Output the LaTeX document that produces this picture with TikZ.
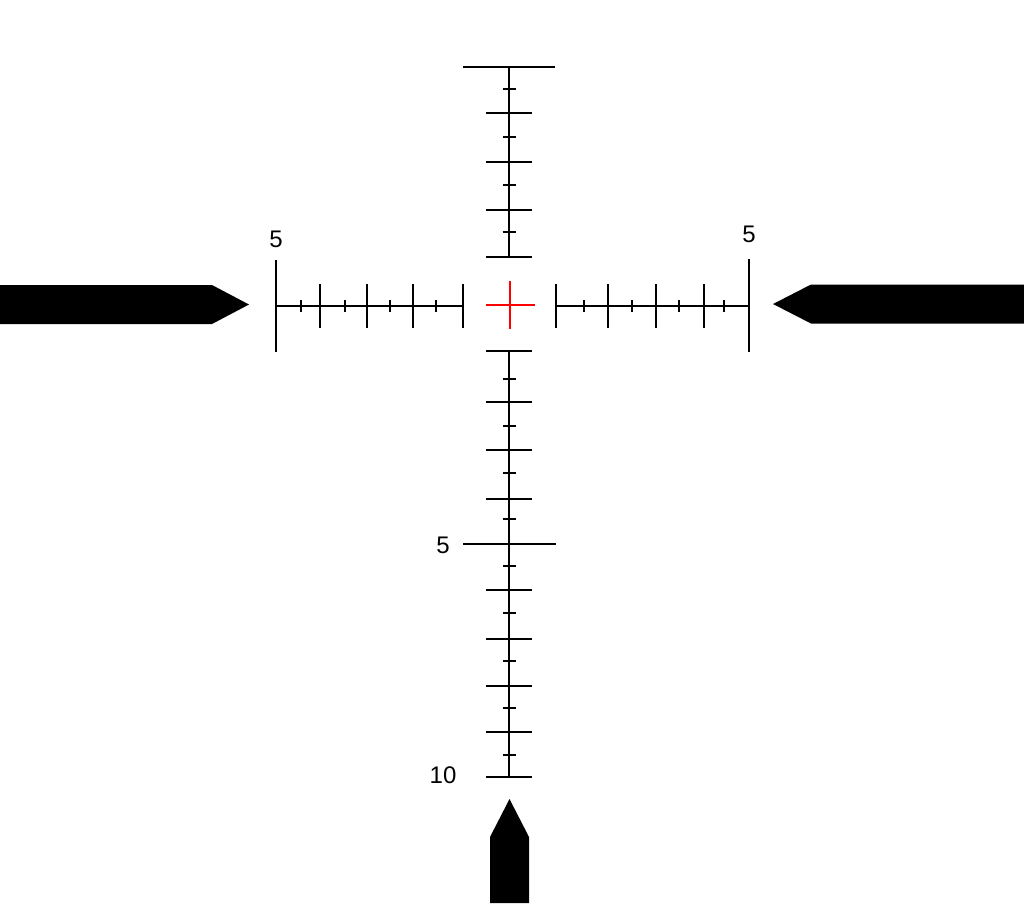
\documentclass[tikz,border=0pt]{standalone}
\usepackage{fontspec}
\setmainfont{Liberation Sans}

\begin{document}
\begin{tikzpicture}[x=1pt, y=-1pt, line width=1.7pt,
  numlabel/.style={font=\fontsize{24}{26}\selectfont, inner sep=0pt}]

          \useasboundingbox (0,0) rectangle (1024,903);

          % horizontal scales
          \begin{scope}[yshift=-306pt]
            \draw (276,0) -- (463,0);
            \draw (556,0) -- (749,0);
            \draw (276,-46) -- (276,46);
            \draw (749,-47) -- (749,46);
            \foreach \x in {320,367,413,463,556,608,656,704}{
              \draw (\x,-22) -- (\x,22);
            }
            \foreach \x in {301,345,390,436,584,632,679,724}{
              \draw (\x,-6) -- (\x,6);
            }
          \end{scope}

          % vertical scales
          \begin{scope}[xshift=509pt]
            \draw (0,67) -- (0,257);
            \draw (0,351) -- (0,777);
            \draw (-46,67) -- (46,67);
            \draw (-46,544) -- (47,544);
            \foreach \y in {113,162,210,257,351,402,450,499,590,639,686,732,777}{
              \draw (-23,\y) -- (23,\y);
            }
            \foreach \y in {89,137,185,232,379,426,473,519,566,613,661,708,755}{
              \draw (-6.5,\y) -- (6.5,\y);
            }
          \end{scope}

          % centre cross
          \draw[red, line width=1.2pt] (486,305) -- (535,305) (510,281) -- (510,329);

          % posts
          \fill (0,285) -- (212,285) -- (249,304.5) -- (212,324) -- (0,324) -- cycle;
          \fill (1024,284.5) -- (811,284.5) -- (773,304) -- (811,323.5) -- (1024,323.5) -- cycle;
          \fill (490,903) -- (490,837) -- (509.5,799) -- (529,837) -- (529,903) -- cycle;

          \node[numlabel] (lblLeft) at (276,239) {5};
          \node[numlabel] (lblRight) at (749,234) {5};
          \node[numlabel] (lblFive) at (443,545) {5};
          \node[numlabel] (lblTen) at (443,775) {10};
\end{tikzpicture}
\end{document}
